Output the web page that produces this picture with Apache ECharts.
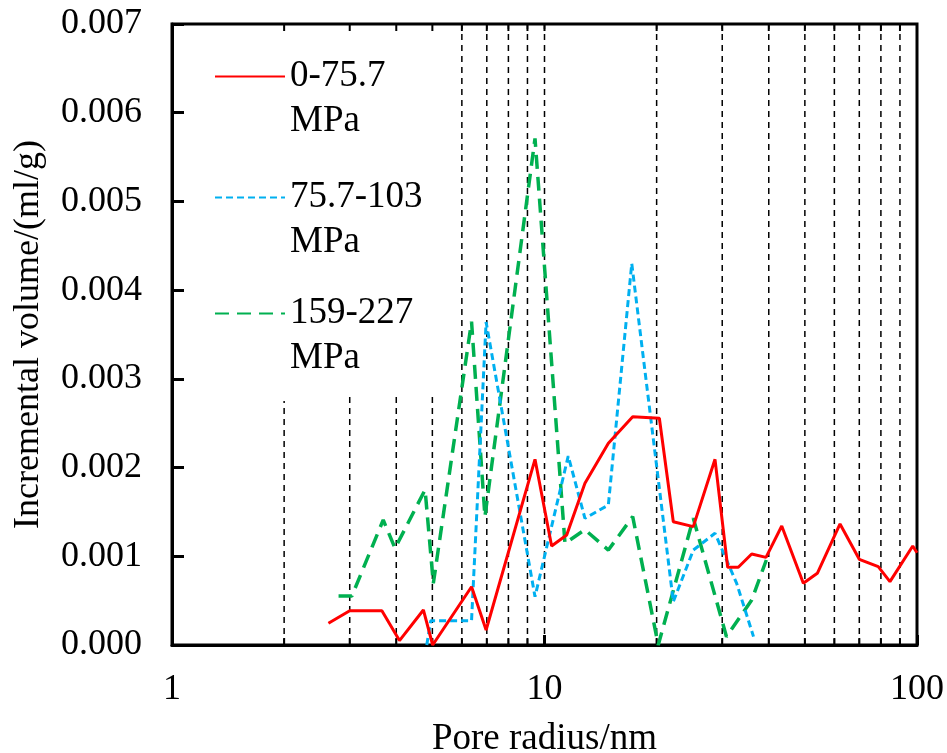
<!DOCTYPE html>
<html>
<head>
<meta charset="utf-8">
<script src="https://cdn.jsdelivr.net/npm/echarts@6/dist/echarts.min.js"></script>
<style>html,body{margin:0;padding:0;background:#fff}#c{width:947px;height:753px}</style>
</head>
<body>
<div id="c"></div>
<script>
// ---- data ----
const seriesNames = ['0-75.7 MPa', '75.7-103 MPa', '159-227 MPa'];

const radiusRed = [2.63, 3.00, 3.66, 4.08, 4.73, 5.01, 6.37, 6.97, 9.43, 10.45, 11.47, 12.84, 14.84, 17.25, 20.34, 22.17, 25.09, 28.69, 31.03, 33.13, 35.99, 39.32, 43.34, 49.53, 54.0, 62.14, 70.0, 78.7, 84.6, 97.4, 100];
const volumeRed = [0.000245, 0.000387, 0.000387, 0.00005, 0.000395, 0.0, 0.000657, 0.000169, 0.002093, 0.001116, 0.00124, 0.001823, 0.002273, 0.002574, 0.002556, 0.00139, 0.001334, 0.002093, 0.000876, 0.000876, 0.001026, 0.000988, 0.001341, 0.000695, 0.000808, 0.001364, 0.000966, 0.000883, 0.000714, 0.001116, 0.00104];

const radiusBlue = [4.83, 4.95, 6.37, 6.97, 9.43, 11.58, 12.84, 14.84, 17.15, 22.17, 25.09, 28.69, 32.8, 36.4];
const volumeBlue = [0.0, 0.000274, 0.000274, 0.00364, 0.000545, 0.00213, 0.001428, 0.001578, 0.0043, 0.000488, 0.00107, 0.00126, 0.000695, 0.000094];

const radiusGreen = [2.80, 3.04, 3.69, 3.97, 4.78, 5.03, 6.37, 6.92, 9.43, 11.35, 12.84, 14.84, 17.25, 20.2, 25.09, 30.8, 36.0, 39.4];
const volumeGreen = [0.000552, 0.000552, 0.00141, 0.00109, 0.00175, 0.000695, 0.003645, 0.001447, 0.00571, 0.001146, 0.0013, 0.00107, 0.001447, 0.0, 0.001428, 0.000094, 0.000507, 0.000958];

// dashed reference lines (x position, top value)
const refLineX   = [2, 3, 4, 5, 6, 7, 8, 9, 10, 20, 30, 40, 50, 60, 70, 80, 90];
const refLineTop = [0.00275, 0.0028, 0.0028, 0.0028, 0.007, 0.007, 0.007, 0.007, 0.007, 0.007, 0.007, 0.007, 0.007, 0.007, 0.007, 0.007, 0.007];

const xMin = 1, xMax = 100;
const yMin = 0, yMax = 0.007, yStep = 0.001;

const FONT = "'Liberation Serif', 'Times New Roman', 'DejaVu Serif', serif";

function zip(a, b) { return a.map((v, i) => [v, b[i]]); }

const chart = echarts.init(document.getElementById('c'), null, {renderer: 'canvas'});

const legendBase = {
  orient: 'vertical', left: 214, padding: 0, itemWidth: 70, itemHeight: 14,
  selectedMode: false,
  itemStyle: {opacity: 0, borderWidth: 0},
  textStyle: {fontFamily: FONT, fontSize: 37, lineHeight: 45, color: '#000'},
  formatter: n => '\n' + n.replace(' ', '\n')
};

const option = {
  animation: false,
  backgroundColor: '#fff',
  grid: {left: 172, right: 30, top: 24, bottom: 108, outerBoundsMode: 'none', containLabel: false,
         show: true, borderColor: '#000', borderWidth: 3, backgroundColor: 'transparent'},
  legend: [
    Object.assign({}, legendBase, {top: 9, data: [seriesNames[0]]}),
    Object.assign({}, legendBase, {top: 130, data: [seriesNames[1]]}),
    Object.assign({}, legendBase, {top: 246, data: [seriesNames[2]]})
  ],
  xAxis: {
    type: 'log', logBase: 10, min: xMin, max: xMax,
    name: 'Pore radius/nm', nameLocation: 'middle', nameGap: 76,
    nameTextStyle: {fontFamily: FONT, fontSize: 37, color: '#000'},
    axisLine: {lineStyle: {color: '#000', width: 3}},
    axisTick: {inside: true, length: 10, lineStyle: {color: '#000', width: 3}},
    axisLabel: {fontFamily: FONT, fontSize: 36, color: '#000', margin: 27},
    splitLine: {show: false}
  },
  yAxis: {
    type: 'value', min: yMin, max: yMax, interval: yStep,
    name: 'Incremental volume/(ml/g)', nameLocation: 'middle', nameGap: 125,
    nameTextStyle: {fontFamily: FONT, fontSize: 36, color: '#000'},
    axisLine: {lineStyle: {color: '#000', width: 3}},
    axisTick: {inside: true, length: 12, lineStyle: {color: '#000', width: 3}},
    axisLabel: {fontFamily: FONT, fontSize: 36, color: '#000', margin: 30, formatter: v => v.toFixed(3)},
    splitLine: {show: false}
  },
  series: [
    {
      type: 'custom', z: 1, silent: true,
      data: zip(refLineX, refLineTop),
      renderItem: function (params, api) {
        const x = api.value(0);
        const p0 = api.coord([x, yMin]);
        const p1 = api.coord([x, api.value(1)]);
        const pt = api.coord([x, yMax]);
        return {
          type: 'group',
          children: [
            {type: 'line', shape: {x1: p0[0], y1: p0[1], x2: p1[0], y2: p1[1]},
             style: {stroke: '#000', lineWidth: 1.5, lineDash: [6, 5]}},
            {type: 'line', shape: {x1: p0[0], y1: p0[1], x2: p0[0], y2: p0[1] - 7},
             style: {stroke: '#000', lineWidth: 2}},
            {type: 'line', shape: {x1: pt[0], y1: pt[1], x2: pt[0], y2: pt[1] + 7},
             style: {stroke: '#000', lineWidth: 2}}
          ]
        };
      }
    },
    {
      name: seriesNames[0], type: 'line', z: 5, symbol: 'none', clip: true,
      data: zip(radiusRed, volumeRed),
      itemStyle: {color: '#FF0000'},
      lineStyle: {color: '#FF0000', width: 3}
    },
    {
      name: seriesNames[1], type: 'line', z: 4, symbol: 'none', clip: true,
      data: zip(radiusBlue, volumeBlue),
      itemStyle: {color: '#00B0F0'},
      lineStyle: {color: '#00B0F0', width: 3, type: [7, 4]}
    },
    {
      name: seriesNames[2], type: 'line', z: 3, symbol: 'none', clip: true,
      data: zip(radiusGreen, volumeGreen),
      itemStyle: {color: '#00B050'},
      lineStyle: {color: '#00B050', width: 3.5, type: [14, 8]}
    }
  ]
};
chart.setOption(option);
</script>
</body>
</html>
